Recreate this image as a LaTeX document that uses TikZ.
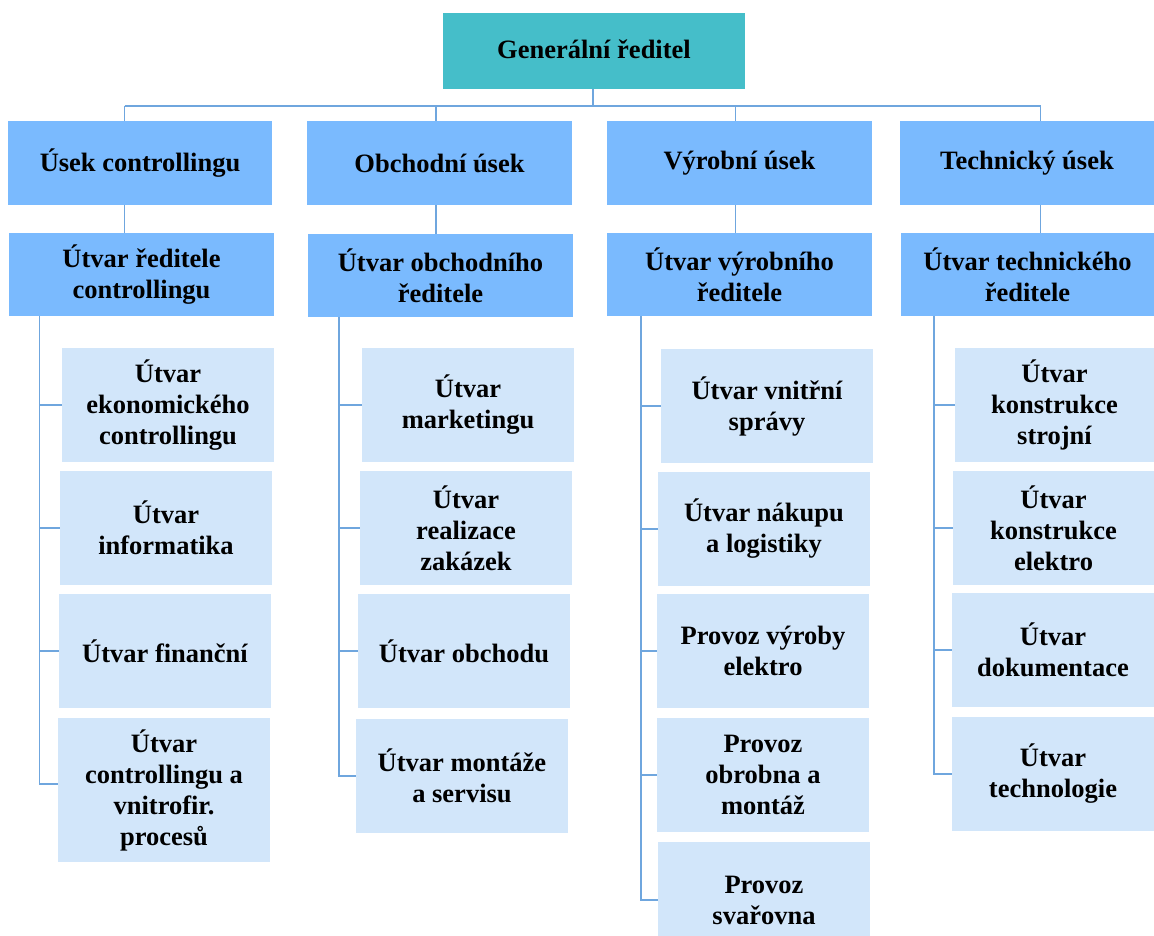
\documentclass[tikz,border=0pt]{standalone}
\usepackage{fontspec}
\setmainfont{Liberation Serif}
\begin{document}
\begin{tikzpicture}[x=1pt,y=-1pt,
  every node/.style={font=\fontsize{26.5}{31}\selectfont\bfseries, align=center, inner sep=0pt},
  topbox/.style={fill=topc},
  midbox/.style={fill=midc},
  lowbox/.style={fill=lowc},
  conn/.style={draw=linec, line width=1.5pt}]
\definecolor{topc}{HTML}{45BEC9}
\definecolor{midc}{HTML}{7ABAFE}
\definecolor{lowc}{HTML}{D2E6FA}
\definecolor{linec}{HTML}{6FA6DE}
\useasboundingbox (0,0) rectangle (1154,936);
\newcommand{\bx}[7]{\node[#6, minimum width={(#4)-(#2)}, minimum height={(#5)-(#3)}] (#1) at ({((#2)+(#4))/2},{((#3)+(#5))/2}) {#7};}
% top
\bx{gen}{443}{13}{745}{89}{topbox}{\raisebox{3pt}{Generální ředitel}}
% level 1
\bx{u1}{8}{121}{272}{205}{midbox}{\raisebox{-2pt}{Úsek controllingu}}
\bx{u2}{307}{121}{572}{205}{midbox}{\raisebox{-2pt}{Obchodní úsek}}
\bx{u3}{607}{121}{872}{205}{midbox}{\raisebox{-2pt}{Výrobní úsek}}
\bx{u4}{900}{121}{1154}{205}{midbox}{\raisebox{-2pt}{Technický úsek}}
% level 2
\bx{r1}{9}{233}{274}{316}{midbox}{Útvar ředitele\\controllingu}
\bx{r2}{308}{234}{573}{317}{midbox}{Útvar obchodního\\ředitele}
\bx{r3}{607}{233}{872}{316}{midbox}{Útvar výrobního\\ředitele}
\bx{r4}{901}{233}{1154}{316}{midbox}{Útvar technického\\ředitele}
% column 1
\bx{a1}{62}{348}{274}{462}{lowbox}{Útvar\\ekonomického\\controllingu}
\bx{a2}{60}{471}{272}{585}{lowbox}{Útvar\\informatika}
\bx{a3}{59}{594}{271}{708}{lowbox}{Útvar finanční}
\bx{a4}{58}{718}{270}{862}{lowbox}{Útvar\\controllingu a\\vnitrofir.\\procesů}
% column 2
\bx{b1}{362}{348}{574}{462}{lowbox}{Útvar\\marketingu}
\bx{b2}{360}{471}{572}{585}{lowbox}{Útvar\\realizace\\zakázek}
\bx{b3}{358}{594}{570}{708}{lowbox}{Útvar obchodu}
\bx{b4}{356}{719}{568}{833}{lowbox}{Útvar montáže\\a servisu}
% column 3
\bx{c1}{661}{349}{873}{463}{lowbox}{Útvar vnitřní\\správy}
\bx{c2}{658}{472}{870}{586}{lowbox}{Útvar nákupu\\a logistiky}
\bx{c3}{657}{594}{869}{708}{lowbox}{Provoz výroby\\elektro}
\bx{c4}{657}{718}{869}{832}{lowbox}{Provoz\\obrobna a\\montáž}
\bx{c5}{658}{842}{870}{958}{lowbox}{Provoz\\svařovna}
% column 4
\bx{d1}{955}{348}{1154}{462}{lowbox}{Útvar\\konstrukce\\strojní}
\bx{d2}{953}{471}{1154}{585}{lowbox}{Útvar\\konstrukce\\elektro}
\bx{d3}{952}{593}{1154}{707}{lowbox}{Útvar\\dokumentace}
\bx{d4}{952}{717}{1154}{831}{lowbox}{Útvar\\technologie}
% bus
\coordinate (bus) at (593,106);
\coordinate (k1) at (124.5,106);
\coordinate (k2) at (436,106);
\coordinate (k3) at (735.5,106);
\coordinate (k4) at (1040.5,106);
\draw[conn] (gen.south -| bus) -- (bus);
\draw[conn] (k1) -- (k4);
\draw[conn] (k1) -- (k1 |- u1.north);
\draw[conn] (k2) -- (k2 |- u2.north);
\draw[conn] (k3) -- (k3 |- u3.north);
\draw[conn] (k4) -- (k4 |- u4.north);
\draw[conn] (u1.south -| k1) -- (r1.north -| k1);
\draw[conn] (u2.south -| k2) -- (r2.north -| k2);
\draw[conn] (u3.south -| k3) -- (r3.north -| k3);
\draw[conn] (u4.south -| k4) -- (r4.north -| k4);
% spines
\coordinate (s1) at (39.5,316);
\coordinate (s2) at (339,317);
\coordinate (s3) at (641,316);
\coordinate (s4) at (934,316);
\draw[conn] (s1) |- ([yshift=6pt]a4.west);
\draw[conn] (a1.west) -- (a1.west -| s1);
\draw[conn] (a2.west) -- (a2.west -| s1);
\draw[conn] (a3.west) -- (a3.west -| s1);
\draw[conn] (s2) |- (b4.west);
\draw[conn] (b1.west) -- (b1.west -| s2);
\draw[conn] (b2.west) -- (b2.west -| s2);
\draw[conn] (b3.west) -- (b3.west -| s2);
\draw[conn] (s3) |- (c5.west);
\draw[conn] (c1.west) -- (c1.west -| s3);
\draw[conn] (c2.west) -- (c2.west -| s3);
\draw[conn] (c3.west) -- (c3.west -| s3);
\draw[conn] (c4.west) -- (c4.west -| s3);
\draw[conn] (s4) |- (d4.west);
\draw[conn] (d1.west) -- (d1.west -| s4);
\draw[conn] (d2.west) -- (d2.west -| s4);
\draw[conn] (d3.west) -- (d3.west -| s4);
\end{tikzpicture}
\end{document}
